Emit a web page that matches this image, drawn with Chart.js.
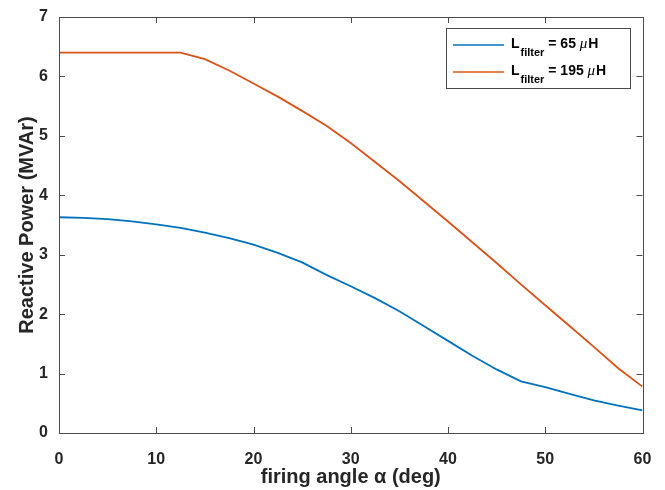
<!DOCTYPE html>
<html>
<head>
<meta charset="utf-8">
<script src="https://cdn.jsdelivr.net/npm/chart.js@4.4.1/dist/chart.umd.min.js"></script>
<style>
  html, body { margin: 0; padding: 0; background: #fff; }
  #wrap { width: 665px; height: 490px; }
</style>
</head>
<body>
<div id="wrap"><canvas id="myChart" width="665" height="490"></canvas></div>
<script>
// firing angle (deg)
const angles = [0, 2.5, 5, 7.5, 10, 12.5, 15, 17.5, 20, 22.5, 25, 27.5, 30,
  32.5, 35, 37.5, 40, 42.5, 45, 47.5, 50, 52.5, 55, 57.5, 60];
// reactive power (MVAr), L_filter = 65 uH
const q65 = [3.63, 3.62, 3.60, 3.56, 3.51, 3.45, 3.37, 3.28, 3.17, 3.03, 2.87, 2.66, 2.47,
  2.27, 2.05, 1.80, 1.55, 1.30, 1.07, 0.87, 0.77, 0.66, 0.55, 0.46, 0.38];
// reactive power (MVAr), L_filter = 195 uH
const q195 = [6.4, 6.4, 6.4, 6.4, 6.4, 6.4, 6.29, 6.10, 5.88, 5.66, 5.42, 5.17, 4.88,
  4.56, 4.24, 3.90, 3.56, 3.21, 2.86, 2.50, 2.15, 1.80, 1.45, 1.09, 0.78];
const filterL = [65, 195];
const xTicks = [0, 10, 20, 30, 40, 50, 60];
const yTicks = [0, 1, 2, 3, 4, 5, 6, 7];

const blue = '#0072BD';
const orange = '#D95319';
const txt = '#262626';
const font = 'Liberation Sans, Arial, Helvetica, sans-serif';

function pts(ys) {
  return angles.map((a, i) => ({ x: a, y: ys[i] }));
}

function noPad(s) {
  s.paddingTop = 0; s.paddingBottom = 0; s.paddingLeft = 0; s.paddingRight = 0;
}

// box round the axes + ticks pointing inward (matlab look)
const boxPlugin = {
  id: 'boxTicks',
  afterDatasetsDraw(chart) {
    const ctx = chart.ctx;
    const a = chart.chartArea;
    const xs = chart.scales.x, ys = chart.scales.y;
    const len = 6;
    ctx.save();
    ctx.strokeStyle = '#4a4a4a';
    ctx.lineWidth = 1;
    ctx.beginPath();
    xTicks.forEach(v => {
      const px = Math.round(xs.getPixelForValue(v)) + 0.5;
      ctx.moveTo(px, a.bottom); ctx.lineTo(px, a.bottom - len);
      ctx.moveTo(px, a.top); ctx.lineTo(px, a.top + len);
    });
    yTicks.forEach(v => {
      const py = Math.round(ys.getPixelForValue(v)) + 0.5;
      ctx.moveTo(a.left, py); ctx.lineTo(a.left + len, py);
      ctx.moveTo(a.right, py); ctx.lineTo(a.right - len, py);
    });
    ctx.stroke();
    ctx.strokeRect(Math.round(a.left) + 0.5, Math.round(a.top) + 0.5,
      Math.round(a.right - a.left), Math.round(a.bottom - a.top));
    ctx.restore();
  }
};

// legend with subscript, drawn on the canvas
const legendPlugin = {
  id: 'filterLegend',
  afterDraw(chart) {
    const ctx = chart.ctx;
    const a = chart.chartArea;
    const bx = Math.round(a.right) - 197, by = Math.round(a.top) + 11, bw = 184, bh = 60;
    ctx.save();
    ctx.fillStyle = '#fff';
    ctx.fillRect(bx, by, bw, bh);
    ctx.strokeStyle = '#4a4a4a';
    ctx.lineWidth = 1;
    ctx.strokeRect(bx + 0.5, by + 0.5, bw, bh);
    chart.data.datasets.forEach((ds, i) => {
      const ly = by + 17 + i * 27;
      ctx.strokeStyle = ds.borderColor;
      ctx.lineWidth = 1.5;
      ctx.beginPath();
      ctx.moveTo(bx + 7, ly); ctx.lineTo(bx + 58, ly);
      ctx.stroke();
      ctx.fillStyle = '#000';
      ctx.textBaseline = 'alphabetic';
      let x = bx + 65;
      const base = ly + 2.5;
      ctx.font = 'bold 14px ' + font;
      ctx.fillText('L', x, base); x += ctx.measureText('L').width + 1;
      ctx.font = 'bold 11px ' + font;
      ctx.fillText('filter', x, base + 8); x += ctx.measureText('filter').width;
      ctx.font = 'bold 14px ' + font;
      const s = ' = ' + filterL[i] + ' ';
      ctx.fillText(s, x, base); x += ctx.measureText(s).width;
      ctx.font = 'italic 15px Liberation Serif, Times New Roman, serif';
      ctx.fillText('\u03bc', x, base); x += ctx.measureText('\u03bc').width + 1;
      ctx.font = 'bold 14px ' + font;
      ctx.fillText('H', x, base);
    });
    ctx.restore();
  }
};

const config = {
  type: 'line',
  data: {
    datasets: [
      { label: 'L_filter = 65 \u03bcH', data: pts(q65), borderColor: blue, borderWidth: 1.8 },
      { label: 'L_filter = 195 \u03bcH', data: pts(q195), borderColor: orange, borderWidth: 1.8 },
    ],
  },
  options: {
    responsive: false,
    animation: false,
    layout: { padding: { top: 17, right: 22.5, left: 0, bottom: 0 } },
    elements: { point: { radius: 0 }, line: { tension: 0 } },
    plugins: { legend: { display: false }, tooltip: { enabled: false } },
    scales: {
      x: {
        type: 'linear', min: 0, max: 60,
        afterFit: s => { s.height = 57; noPad(s); },
        afterBuildTicks: s => { s.ticks = xTicks.map(v => ({ value: v })); },
        grid: { display: false, drawTicks: false },
        border: { display: false },
        ticks: { padding: 17, color: txt, font: { family: font, size: 16, weight: 'bold' } },
        title: {
          display: true, text: 'firing angle \u03b1 (deg)', color: txt,
          font: { family: font, size: 20, weight: 'bold' }, padding: { top: 0, bottom: 1 },
        },
      },
      y: {
        type: 'linear', min: 0, max: 7,
        afterFit: s => { s.width = 59; noPad(s); },
        afterBuildTicks: s => { s.ticks = yTicks.map(v => ({ value: v })); },
        grid: { display: false, drawTicks: false },
        border: { display: false },
        ticks: { padding: 11, color: txt, font: { family: font, size: 16, weight: 'bold' } },
        title: {
          display: true, text: 'Reactive Power (MVAr)', color: txt,
          font: { family: font, size: 20, weight: 'bold' }, padding: { top: 15, bottom: 0 },
        },
      },
    },
  },
  plugins: [boxPlugin, legendPlugin],
};

new Chart(document.getElementById('myChart').getContext('2d'), config);
</script>
</body>
</html>
